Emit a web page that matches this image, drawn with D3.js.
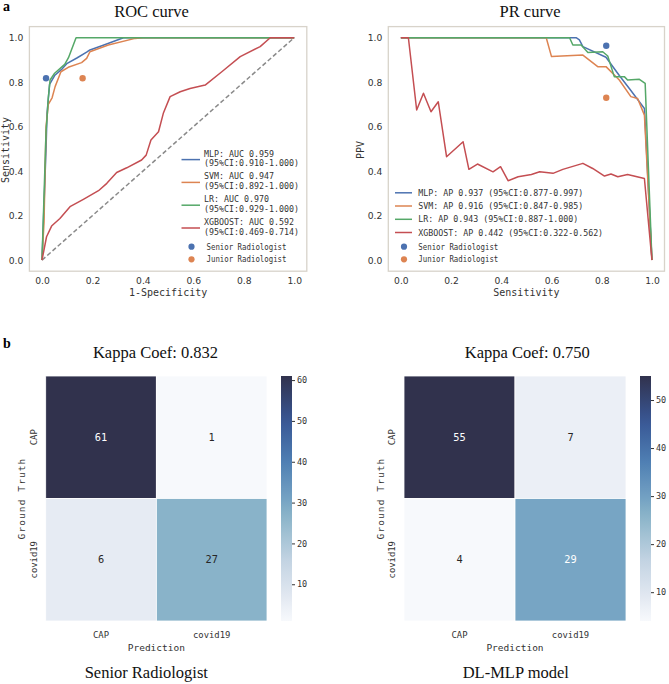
<!DOCTYPE html>
<html><head><meta charset="utf-8">
<script src="https://cdn.jsdelivr.net/npm/d3@7"></script>
<style>body{margin:0;background:#fff}svg{display:block}</style>
</head><body>
<svg id="c" width="669" height="684"></svg>
<script>
// ---------------- DATA ----------------
const axisTicks = [0, 0.2, 0.4, 0.6, 0.8, 1.0];
const rocMLP = [[0,0],[0.016,0.5],[0.02,0.66],[0.03,0.79],[0.05,0.83],[0.08,0.86],[0.1,0.885],[0.14,0.91],[0.177,0.935],[0.19,0.945],[0.24,0.965],[0.323,1],[1,1]];
const rocSVM = [[0,0],[0.008,0.17],[0.016,0.6],[0.025,0.7],[0.04,0.73],[0.052,0.78],[0.075,0.847],[0.104,0.867],[0.157,0.888],[0.177,0.907],[0.19,0.937],[0.263,0.967],[0.369,0.997],[0.4,1],[1,1]];
const rocLR = [[0,0],[0.016,0.58],[0.02,0.64],[0.025,0.73],[0.032,0.81],[0.05,0.84],[0.09,0.88],[0.105,0.91],[0.135,1],[1,1]];
const rocXGB = [[0,0],[0.018,0.105],[0.038,0.153],[0.071,0.187],[0.111,0.24],[0.164,0.273],[0.224,0.312],[0.257,0.345],[0.296,0.394],[0.336,0.415],[0.395,0.45],[0.413,0.472],[0.432,0.54],[0.462,0.577],[0.481,0.66],[0.508,0.735],[0.548,0.757],[0.587,0.772],[0.647,0.787],[0.713,0.847],[0.786,0.915],[0.865,0.96],[0.905,1],[1,1]];
const prMLP = [[0,1],[0.03,1],[0.698,1],[0.711,0.99],[0.725,0.96],[0.817,0.912],[0.87,0.83],[0.91,0.772],[0.97,0.682],[1,0]];
const prSVM = [[0,1],[0.03,1],[0.579,1],[0.6,0.915],[0.725,0.922],[0.784,0.87],[0.817,0.87],[0.87,0.81],[0.916,0.735],[0.943,0.727],[0.97,0.652],[1,0]];
const prLR = [[0,1],[0.03,1],[0.672,1],[0.685,0.967],[0.718,0.967],[0.745,0.933],[0.804,0.937],[0.824,0.918],[0.85,0.825],[0.89,0.825],[0.903,0.81],[0.95,0.813],[0.973,0.795],[1,0]];
const prXGB = [[0,1],[0.03,1],[0.063,0.675],[0.09,0.75],[0.12,0.667],[0.149,0.712],[0.182,0.465],[0.248,0.532],[0.271,0.408],[0.305,0.432],[0.367,0.397],[0.397,0.42],[0.427,0.357],[0.467,0.375],[0.52,0.385],[0.553,0.397],[0.606,0.39],[0.645,0.408],[0.725,0.435],[0.764,0.412],[0.811,0.378],[0.837,0.387],[0.864,0.375],[0.903,0.385],[0.97,0.367],[1,0]];
const seniorROC = [0.016, 0.818], juniorROC = [0.161, 0.818];
const seniorPR = [0.818, 0.964], juniorPR = [0.818, 0.730];
const rocLegend = [["MLP: AUC 0.959","(95%CI:0.910-1.000)"],["SVM: AUC 0.947","(95%CI:0.892-1.000)"],["LR: AUC 0.970","(95%CI:0.929-1.000)"],["XGBOOST: AUC 0.592","(95%CI:0.469-0.714)"]];
const prLegend = ["MLP: AP 0.937 (95%CI:0.877-0.997)","SVM: AP 0.916 (95%CI:0.847-0.985)","LR: AP 0.943 (95%CI:0.887-1.000)","XGBOOST: AP 0.442 (95%CI:0.322-0.562)"];
const pointLegend = ["Senior Radiologist","Junior Radiologist"];
const cmClasses = ["CAP","covid19"];
const cmSenior = [[61,1],[6,27]];
const cmMLP = [[55,7],[4,29]];
const cbTicksSenior = [10,20,30,40,50,60];
const cbTicksMLP = [10,20,30,40,50];
const kappaSenior = "Kappa Coef: 0.832", kappaMLP = "Kappa Coef: 0.750";

// ---------------- STYLE ----------------
const colors = ["#4c72b0","#dd8452","#55a868","#c44e52"];
const MONO = "'DejaVu Sans Mono', monospace";
const SANS = "'DejaVu Sans', sans-serif";
const SERIF = "'Liberation Serif','Times New Roman', serif";
const svg = d3.select("#c");

function linePanel(opt){
  const x = d3.scaleLinear().domain([-0.05,1.05]).range(opt.xr);
  const y = d3.scaleLinear().domain([-0.05,1.05]).range([271.2,26.6]);
  const g = svg.append("g");
  g.append("rect").attr("x",opt.xr[0]).attr("y",26.6).attr("width",opt.xr[1]-opt.xr[0]).attr("height",271.2-26.6)
    .attr("fill","#fff").attr("stroke","#d8d3ca").attr("stroke-width",1.3);
  const xa = g.append("g").attr("transform","translate(0,271.2)").call(d3.axisBottom(x).tickValues(axisTicks).tickFormat(d3.format(".1f")).tickSize(0).tickPadding(6));
  const ya = g.append("g").attr("transform",`translate(${opt.xr[0]},0)`).call(d3.axisLeft(y).tickValues(axisTicks).tickFormat(d3.format(".1f")).tickSize(0).tickPadding(6));
  [xa,ya].forEach(a=>{a.select(".domain").remove();a.selectAll("text").attr("font-family",SANS).attr("font-size",9.2).attr("fill","#333");});
  g.append("text").attr("x",(opt.xr[0]+opt.xr[1])/2).attr("y",296).attr("text-anchor","middle").attr("font-family",MONO).attr("font-size",10).attr("fill","#333").text(opt.xlabel);
  g.append("text").attr("transform",`translate(${opt.ylx},150) rotate(-90)`).attr("text-anchor","middle").attr("font-family",MONO).attr("font-size",10).attr("fill","#333").text(opt.ylabel);
  g.append("text").attr("x",opt.tx).attr("y",17).attr("text-anchor","middle").attr("font-family",SERIF).attr("font-size",16.5).attr("fill","#111").text(opt.title);
  const line = d3.line().x(d=>x(d[0])).y(d=>y(d[1]));
  if(opt.diag){
    g.append("path").attr("d",line([[0,0],[1,1]])).attr("fill","none").attr("stroke","#8a8a8a").attr("stroke-width",1.5).attr("stroke-dasharray","4.5,2.5");
  }
  opt.series.forEach((s,i)=>{
    g.append("path").attr("d",line(s)).attr("fill","none").attr("stroke",colors[i]).attr("stroke-width",1.5).attr("stroke-linejoin","round");
  });
  g.append("circle").attr("cx",x(opt.senior[0])).attr("cy",y(opt.senior[1])).attr("r",3.2).attr("fill",colors[0]);
  g.append("circle").attr("cx",x(opt.junior[0])).attr("cy",y(opt.junior[1])).attr("r",3.2).attr("fill",colors[1]);
  return {x,y,g};
}

// ROC panel
const roc = linePanel({xr:[29.4,306.8], xlabel:"1-Specificity", ylabel:"Sensitivity", ylx:9, tx:151.5, title:"ROC curve",
  series:[rocMLP,rocSVM,rocLR,rocXGB], diag:true, senior:seniorROC, junior:juniorROC});
const rocLegY = [159.6,182.4,205.2,228];
rocLegend.forEach((t,i)=>{
  roc.g.append("line").attr("x1",181.5).attr("x2",200).attr("y1",rocLegY[i]).attr("y2",rocLegY[i]).attr("stroke",colors[i]).attr("stroke-width",1.5);
  roc.g.append("text").attr("x",204).attr("y",rocLegY[i]-3).attr("font-family",MONO).attr("font-size",8.3).attr("fill","#333").text(t[0]);
  roc.g.append("text").attr("x",204).attr("y",rocLegY[i]+6.6).attr("font-family",MONO).attr("font-size",8.3).attr("fill","#333").text(t[1]);
});
[246.7,259.3].forEach((yy,i)=>{
  roc.g.append("circle").attr("cx",191.5).attr("cy",yy).attr("r",3.1).attr("fill",colors[i]);
  roc.g.append("text").attr("x",206.5).attr("y",yy+3).attr("font-family",MONO).attr("font-size",8.3).attr("textLength",80).attr("lengthAdjust","spacingAndGlyphs").attr("fill","#333").text(pointLegend[i]);
});

// PR panel
const pr = linePanel({xr:[388.3,664.5], xlabel:"Sensitivity", ylabel:"PPV", ylx:364, tx:530, title:"PR curve",
  series:[prMLP,prSVM,prLR,prXGB], diag:false, senior:seniorPR, junior:juniorPR});
const prLegY = [192.8,206,219.3,232.5];
prLegend.forEach((t,i)=>{
  pr.g.append("line").attr("x1",395).attr("x2",412).attr("y1",prLegY[i]).attr("y2",prLegY[i]).attr("stroke",colors[i]).attr("stroke-width",1.5);
  pr.g.append("text").attr("x",418.3).attr("y",prLegY[i]+3).attr("font-family",MONO).attr("font-size",8.3).attr("fill","#333").text(t);
});
[246.7,259.3].forEach((yy,i)=>{
  pr.g.append("circle").attr("cx",404).attr("cy",yy).attr("r",3.1).attr("fill",colors[i]);
  pr.g.append("text").attr("x",418.3).attr("y",yy+3).attr("font-family",MONO).attr("font-size",8.3).attr("textLength",80).attr("lengthAdjust","spacingAndGlyphs").attr("fill","#333").text(pointLegend[i]);
});

// panel letters
svg.append("text").attr("x",3).attr("y",11).attr("font-family",SERIF).attr("font-weight","bold").attr("font-size",14).text("a");
svg.append("text").attr("x",3).attr("y",348).attr("font-family",SERIF).attr("font-weight","bold").attr("font-size",14).text("b");

// ---------------- HEATMAPS ----------------
const cmapPos = [0,0.1,0.25,0.43,0.5,0.65,0.82,1];
const cmapCol = ["#f7f9fc","#e2e8f1","#c2d3e2","#8ab4c9","#74a2c3","#4f7fb3","#385694","#31324d"];
const cmap = d3.scaleLinear().domain(cmapPos).range(cmapCol).interpolate(d3.interpolateRgb);

function heatmap(opt){
  const g = svg.append("g");
  const vals = opt.data.flat();
  const vmin = d3.min(vals), vmax = d3.max(vals);
  const norm = d3.scaleLinear().domain([vmin,vmax]).range([0,1]);
  const x = d3.scaleBand().domain(cmClasses).range(opt.xr);
  const y = d3.scaleBand().domain(cmClasses).range([376,621]);
  opt.data.forEach((row,i)=>row.forEach((v,j)=>{
    const c = cmap(norm(v));
    g.append("rect").attr("x",x(cmClasses[j])).attr("y",y(cmClasses[i])).attr("width",x.bandwidth()).attr("height",y.bandwidth())
      .attr("fill",c).attr("stroke","#fff").attr("stroke-width",0.8);
    const rgb = d3.rgb(c);
    const lum = (0.2126*rgb.r+0.7152*rgb.g+0.0722*rgb.b)/255;
    g.append("text").attr("x",x(cmClasses[j])+x.bandwidth()/2).attr("y",y(cmClasses[i])+y.bandwidth()/2+3.7)
      .attr("text-anchor","middle").attr("font-family",MONO).attr("font-size",10.3).attr("fill",lum<0.65?"#fff":"#262626").text(v);
  }));
  // tick labels
  cmClasses.forEach(c=>{
    g.append("text").attr("x",x(c)+x.bandwidth()/2).attr("y",638).attr("text-anchor","middle").attr("font-family",MONO).attr("font-size",8.9).attr("fill","#333").text(c);
    g.append("text").attr("transform",`translate(${opt.xr[0]-9},${y(c)+y.bandwidth()/2}) rotate(-90)`).attr("text-anchor","middle").attr("font-family",MONO).attr("font-size",8.9).attr("fill","#333").text(c);
  });
  g.append("text").attr("x",(opt.xr[0]+opt.xr[1])/2).attr("y",650.5).attr("text-anchor","middle").attr("font-family",MONO).attr("font-size",9.5).attr("fill","#333").text("Prediction");
  g.append("text").attr("transform",`translate(${opt.xr[0]-20.5},498.5) rotate(-90)`).attr("text-anchor","middle").attr("font-family",MONO).attr("font-size",9.5).attr("letter-spacing",1.1).attr("fill","#333").text("Ground Truth");
  // colorbar
  const gid = "grad"+opt.id;
  const grad = svg.append("defs").append("linearGradient").attr("id",gid).attr("x1",0).attr("x2",0).attr("y1",1).attr("y2",0);
  d3.range(0,1.0001,0.05).forEach(t=>grad.append("stop").attr("offset",t).attr("stop-color",cmap(t)));
  g.append("rect").attr("x",opt.cbx).attr("y",376).attr("width",11).attr("height",245).attr("fill",`url(#${gid})`);
  const cy = d3.scaleLinear().domain([vmin,vmax]).range([621,376]);
  const ca = g.append("g").attr("transform",`translate(${opt.cbx+11},0)`).call(d3.axisRight(cy).tickValues(opt.cbTicks).tickSize(3).tickPadding(2));
  ca.select(".domain").remove();
  ca.selectAll("line").attr("stroke","#333");
  ca.selectAll("text").attr("font-family",MONO).attr("font-size",8.5).attr("fill","#333");
  // titles
  g.append("text").attr("x",opt.tx).attr("y",357.5).attr("text-anchor","middle").attr("font-family",SERIF).attr("font-size",16.5).attr("fill","#111").text(opt.title);
  g.append("text").attr("x",opt.bx).attr("y",678).attr("text-anchor","middle").attr("font-family",SERIF).attr("font-size",16.5).attr("fill","#111").text(opt.bottom);
}
heatmap({id:"s", data:cmSenior, xr:[45.7,267], cbx:281, cbTicks:cbTicksSenior, tx:155.5, title:kappaSenior, bx:146.3, bottom:"Senior Radiologist"});
heatmap({id:"m", data:cmMLP, xr:[404,626], cbx:640, cbTicks:cbTicksMLP, tx:527.3, title:kappaMLP, bx:515.8, bottom:"DL-MLP model"});
</script>
</body></html>
